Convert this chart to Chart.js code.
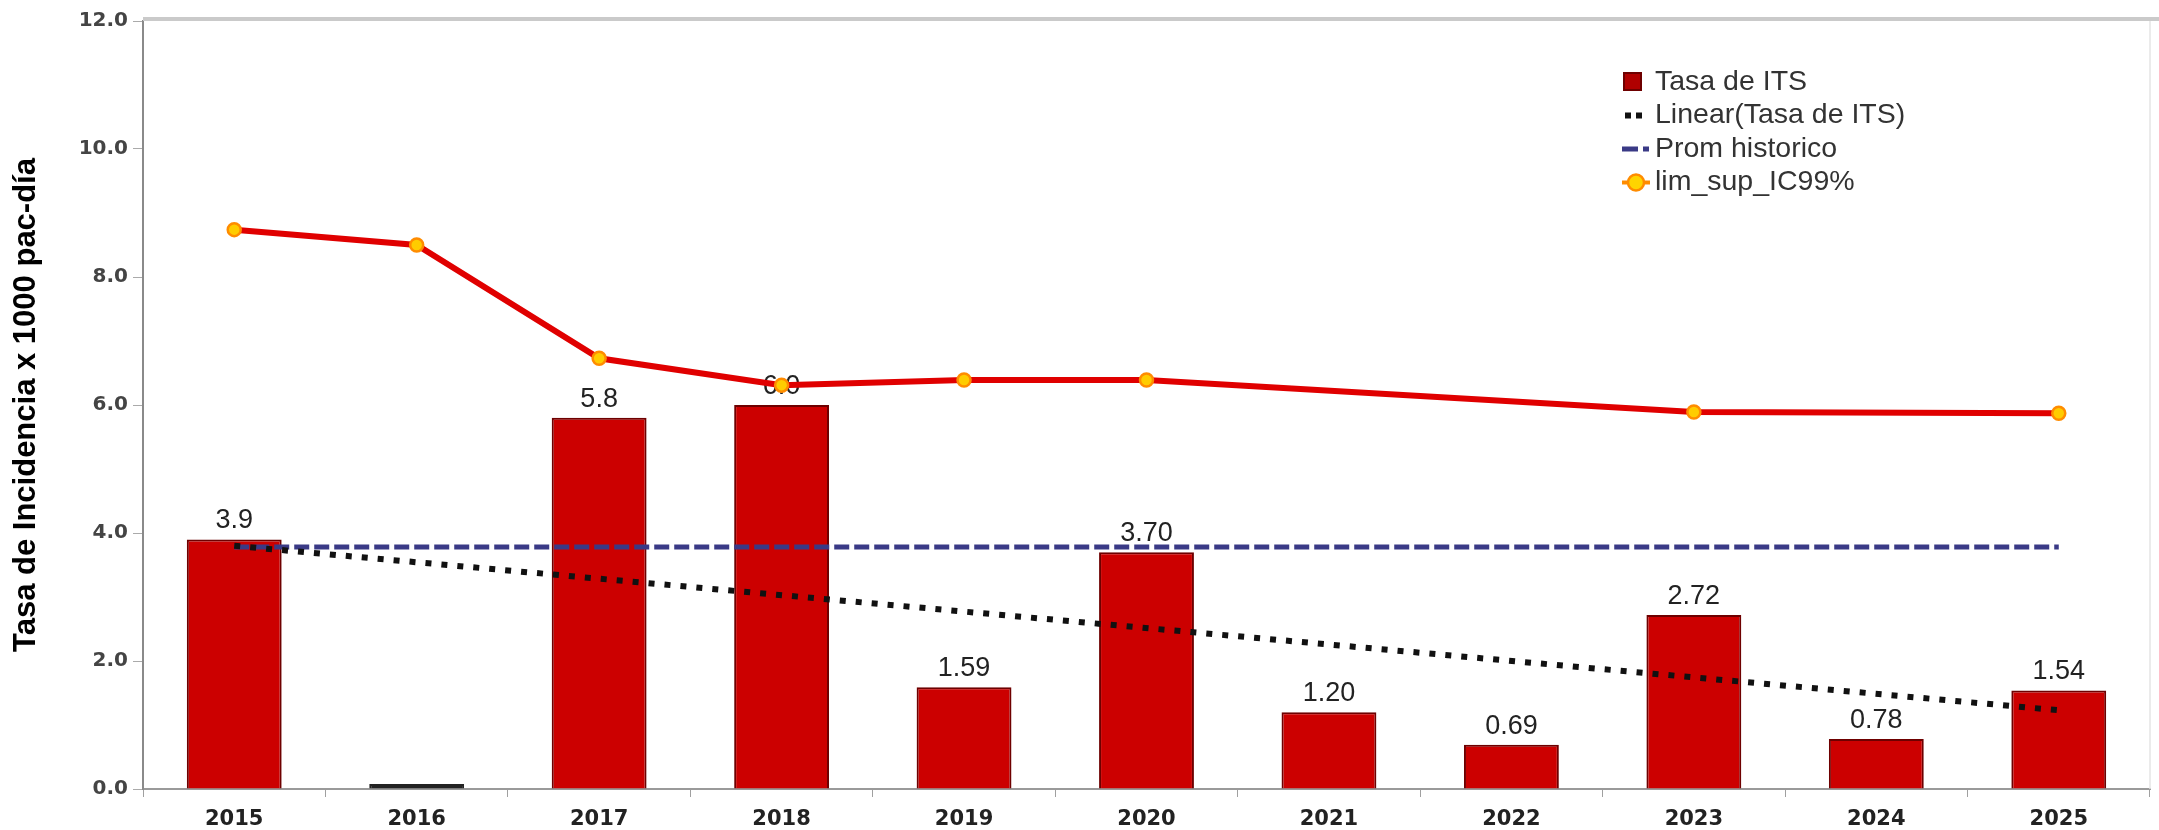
<!DOCTYPE html>
<html>
<head>
<meta charset="utf-8">
<script src="https://cdn.jsdelivr.net/npm/chart.js@4.4.1/dist/chart.umd.min.js"></script>
<style>
  html, body { margin: 0; padding: 0; background: #fff; }
  #wrap { width: 2159px; height: 830px; }
</style>
</head>
<body>
<div id="wrap"><canvas id="chart" width="2159" height="830"></canvas></div>
<script>
// Years on the x axis
const years = ["2015", "2016", "2017", "2018", "2019", "2020", "2021", "2022", "2023", "2024", "2025"];

// Incidence rate per year (bars) and the labels printed above them
const tasaITS = [3.9, 0, 5.8, 6.0, 1.59, 3.70, 1.20, 0.69, 2.72, 0.78, 1.54];
const barLabels = ["3.9", "", "5.8", "6.0", "1.59", "3.70", "1.20", "0.69", "2.72", "0.78", "1.54"];

const tendencia = [3.80, null, null, null, null, null, null, null, null, null, 1.23];

// Historic average
const promHistorico = [3.78, 3.78, 3.78, 3.78, 3.78, 3.78, 3.78, 3.78, 3.78, 3.78, 3.78];

// Upper limit of the 99% CI (missing years are skipped)
const limSupIC99 = [8.74, 8.50, 6.73, 6.31, 6.39, 6.39, null, null, 5.89, null, 5.87];

// Y tick labels
const yTickLabels = ["0.0", "2.0", "4.0", "6.0", "8.0", "10.0", "12.0"];

const RED = "#cc0000";
const RED_DARK = "#6e0000";
const NAVY = "#3a3a86";

// Top frame line and faint right edge
const framePlugin = {
  id: "frame",
  beforeDatasetsDraw(chart) {
    const { ctx, chartArea } = chart;
    ctx.save();
    ctx.strokeStyle = "#cacaca";
    ctx.lineWidth = 4;
    ctx.beginPath();
    ctx.moveTo(chartArea.left, chartArea.top - 2);
    ctx.lineTo(chart.width, chartArea.top - 2);
    ctx.stroke();
    ctx.strokeStyle = "#e4e4e4";
    ctx.lineWidth = 1.5;
    ctx.beginPath();
    ctx.moveTo(chartArea.right, chartArea.top);
    ctx.lineTo(chartArea.right, chartArea.bottom);
    ctx.stroke();
    ctx.restore();
  },
};

// Value labels above bars, drawn right after the bars so the lines go on top
const barLabelPlugin = {
  id: "barLabels",
  afterDatasetDraw(chart, args) {
    if (args.index !== 0) return;
    const ctx = chart.ctx;
    ctx.save();
    ctx.font = '27px "Liberation Sans", Arial, sans-serif';
    ctx.fillStyle = "#222";
    ctx.textAlign = "center";
    ctx.textBaseline = "bottom";
    args.meta.data.forEach((bar, i) => {
      if (!barLabels[i]) return;
      ctx.fillText(barLabels[i], bar.x, bar.y - 5);
    });
    ctx.restore();
  },
};

// Legend in the upper right of the plot
const legendPlugin = {
  id: "legendBox",
  afterDraw(chart) {
    const ctx = chart.ctx;
    const x0 = 1622, y0 = 82, rowH = 33.5;
    ctx.save();
    ctx.font = '28.5px "Liberation Sans", Arial, sans-serif';
    ctx.textBaseline = "middle";
    chart.data.datasets.forEach((ds, i) => {
      const y = y0 + i * rowH;
      if (i === 0) {
        ctx.fillStyle = RED_DARK;
        ctx.fillRect(x0 + 1, y - 10, 19, 19);
        ctx.fillStyle = "#b00000";
        ctx.fillRect(x0 + 3, y - 8, 15, 15);
      } else if (i === 1) {
        ctx.fillStyle = "#111";
        ctx.fillRect(x0 + 3, y - 3, 6, 6);
        ctx.fillRect(x0 + 14, y - 3, 6, 6);
      } else if (i === 2) {
        ctx.fillStyle = NAVY;
        ctx.fillRect(x0, y - 2.5, 16, 5);
        ctx.fillRect(x0 + 21, y - 2.5, 6, 5);
      } else {
        ctx.strokeStyle = "#ff8c00";
        ctx.lineWidth = 4;
        ctx.beginPath();
        ctx.moveTo(x0, y);
        ctx.lineTo(x0 + 28, y);
        ctx.stroke();
        ctx.beginPath();
        ctx.arc(x0 + 14, y, 8, 0, Math.PI * 2);
        ctx.fillStyle = "#ffd400";
        ctx.fill();
        ctx.lineWidth = 2.5;
        ctx.stroke();
      }
      ctx.fillStyle = "#333";
      ctx.fillText(ds.label, x0 + 33, y);
    });
    ctx.restore();
  },
};

new Chart(document.getElementById("chart"), {
  type: "bar",
  plugins: [framePlugin, barLabelPlugin, legendPlugin],
  data: {
    labels: years,
    datasets: [
      {
        label: "Tasa de ITS",
        data: tasaITS,
        order: 4,
        backgroundColor: (c) => (c.raw === 0 ? "#222" : RED),
        borderColor: (c) => (c.raw === 0 ? "#222" : RED_DARK),
        borderWidth: 2,
        minBarLength: 5,
        barPercentage: 0.52,
        categoryPercentage: 1,
      },
      {
        type: "line",
        label: "Linear(Tasa de ITS)",
        data: tendencia,
        order: 2,
        borderColor: "#111",
        borderWidth: 6,
        borderDash: [6, 10],
        pointRadius: 0,
        spanGaps: true,
        fill: false,
      },
      {
        type: "line",
        label: "Prom historico",
        data: promHistorico,
        order: 3,
        borderColor: NAVY,
        borderWidth: 5,
        borderDash: [15, 5],
        pointRadius: 0,
        fill: false,
      },
      {
        type: "line",
        label: "lim_sup_IC99%",
        data: limSupIC99,
        order: 1,
        borderColor: "#e00000",
        borderWidth: 6,
        pointRadius: 6.5,
        pointBackgroundColor: "#ffcc00",
        pointBorderColor: "#ff8c00",
        pointBorderWidth: 2.5,
        spanGaps: true,
        tension: 0,
        fill: false,
      },
    ],
  },
  options: {
    responsive: false,
    animation: false,
    devicePixelRatio: 1,
    layout: { padding: { top: 21, right: 3, left: 0, bottom: 0 } },
    plugins: {
      legend: { display: false },
      tooltip: { enabled: false },
    },
    scales: {
      x: {
        offset: true,
        grid: { drawOnChartArea: false, drawTicks: true, tickLength: 8, color: "#a0a0a0", offset: true },
        border: { display: true, color: "#9a9a9a", width: 2 },
        ticks: {
          color: "#222",
          padding: 10,
          font: { family: '"DejaVu Sans", Verdana, sans-serif', size: 21, weight: "bold" },
        },
        afterFit(scale) { scale.height = 41; },
      },
      y: {
        min: 0,
        max: 12,
        ticks: {
          stepSize: 2,
          color: "#444",
          padding: 5,
          font: { family: '"DejaVu Sans", Verdana, sans-serif', size: 20, weight: "bold" },
          callback: (v) => yTickLabels[Math.round(v / 2)],
        },
        grid: { drawOnChartArea: false, drawTicks: true, tickLength: 10, color: "#aaa" },
        border: { display: true, color: "#8a8a8a", width: 2 },
        title: {
          display: true,
          text: "Tasa de Incidencia x 1000 pac-día",
          color: "#000",
          padding: { top: 8, bottom: 0 },
          font: { family: '"Liberation Sans", Arial, sans-serif', size: 31, weight: "bold" },
        },
        afterFit(scale) { scale.width = 143; },
      },
    },
  },
});
</script>
</body>
</html>
